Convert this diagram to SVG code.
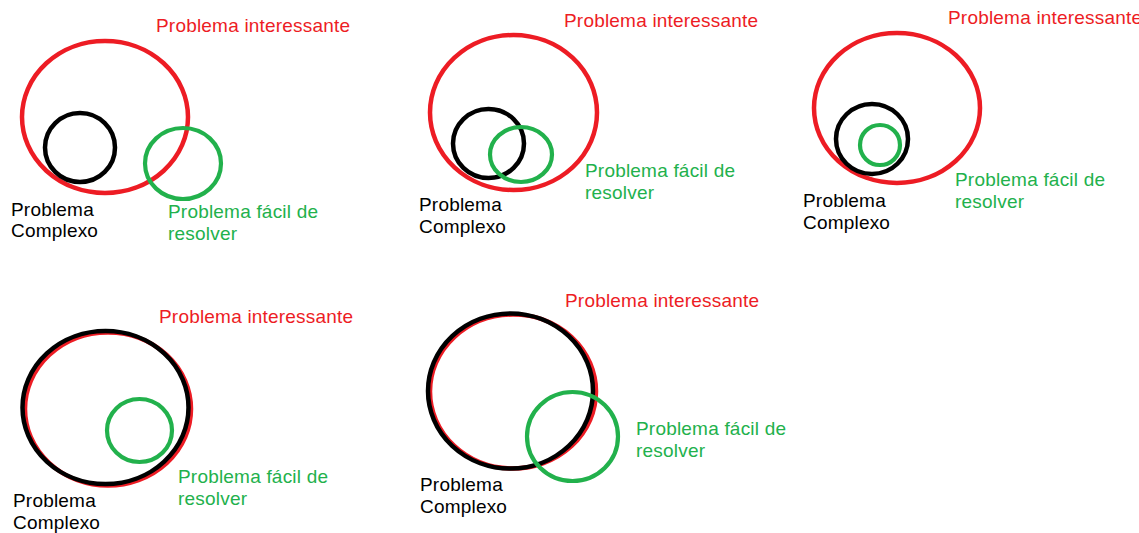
<svg xmlns="http://www.w3.org/2000/svg" width="1139" height="533" viewBox="0 0 1139 533">
<style>
.r{fill:none;stroke:#ed1c24;stroke-width:4.5}
.k{fill:none;stroke:#000;stroke-width:4.5}
.g{fill:none;stroke:#22b14c;stroke-width:4.2}
text{font-family:"Liberation Sans",Arial,sans-serif;font-size:19px;letter-spacing:0.2px}
.tr{fill:#ed1c24}.tk{fill:#000}.tg{fill:#22b14c}
</style>
<rect width="1139" height="533" fill="#fff"/>
<g id="connectors"/>
<!-- Panel 1 -->
<g id="p1-interessante"><ellipse class="r" cx="105" cy="117" rx="83" ry="76"/><text class="tr" x="156" y="32">Problema interessante</text></g>
<g id="p1-complexo"><ellipse class="k" cx="80" cy="147.5" rx="35" ry="34.5"/><text class="tk" x="11" y="216">Problema</text><text class="tk" x="11" y="237">Complexo</text></g>
<g id="p1-facil"><ellipse class="g" cx="183" cy="163.5" rx="38" ry="35.5"/><text class="tg" x="168" y="218">Problema fácil de</text><text class="tg" x="168" y="240">resolver</text></g>
<!-- Panel 2 -->
<g id="p2-interessante"><ellipse class="r" cx="513.5" cy="112.5" rx="83.5" ry="77.5"/><text class="tr" x="564" y="27">Problema interessante</text></g>
<g id="p2-complexo"><ellipse class="k" cx="488.5" cy="143.5" rx="35.5" ry="34.5"/><text class="tk" x="419" y="211">Problema</text><text class="tk" x="419" y="233">Complexo</text></g>
<g id="p2-facil"><ellipse class="g" cx="521" cy="154.5" rx="31" ry="27.5"/><text class="tg" x="585" y="177">Problema fácil de</text><text class="tg" x="585" y="199">resolver</text></g>
<!-- Panel 3 -->
<g id="p3-interessante"><ellipse class="r" cx="897" cy="108" rx="83" ry="75"/><text class="tr" x="948" y="24">Problema interessante</text></g>
<g id="p3-complexo"><ellipse class="k" cx="872" cy="139" rx="36" ry="35"/><text class="tk" x="803" y="207">Problema</text><text class="tk" x="803" y="229">Complexo</text></g>
<g id="p3-facil"><ellipse class="g" cx="880" cy="145" rx="20" ry="20"/><text class="tg" x="955" y="186">Problema fácil de</text><text class="tg" x="955" y="208">resolver</text></g>
<!-- Panel 4 -->
<g id="p4-interessante"><ellipse class="r" cx="108" cy="409" rx="83" ry="76.5"/><text class="tr" x="159" y="323">Problema interessante</text></g>
<g id="p4-complexo"><ellipse class="k" cx="105.5" cy="407.5" rx="83" ry="76.5"/><text class="tk" x="13" y="507">Problema</text><text class="tk" x="13" y="529">Complexo</text></g>
<g id="p4-facil"><ellipse class="g" cx="139.5" cy="430.5" rx="32.5" ry="31.5"/><text class="tg" x="178" y="483">Problema fácil de</text><text class="tg" x="178" y="505">resolver</text></g>
<!-- Panel 5 -->
<g id="p5-interessante"><ellipse class="r" cx="513" cy="391.5" rx="83" ry="77"/><text class="tr" x="565" y="307">Problema interessante</text></g>
<g id="p5-complexo"><ellipse class="k" cx="510.5" cy="391" rx="82.5" ry="77.5"/><text class="tk" x="420" y="491">Problema</text><text class="tk" x="420" y="513">Complexo</text></g>
<g id="p5-facil"><ellipse class="g" cx="572.5" cy="436.5" rx="45.5" ry="44.5"/><text class="tg" x="636" y="435">Problema fácil de</text><text class="tg" x="636" y="457">resolver</text></g>
</svg>
